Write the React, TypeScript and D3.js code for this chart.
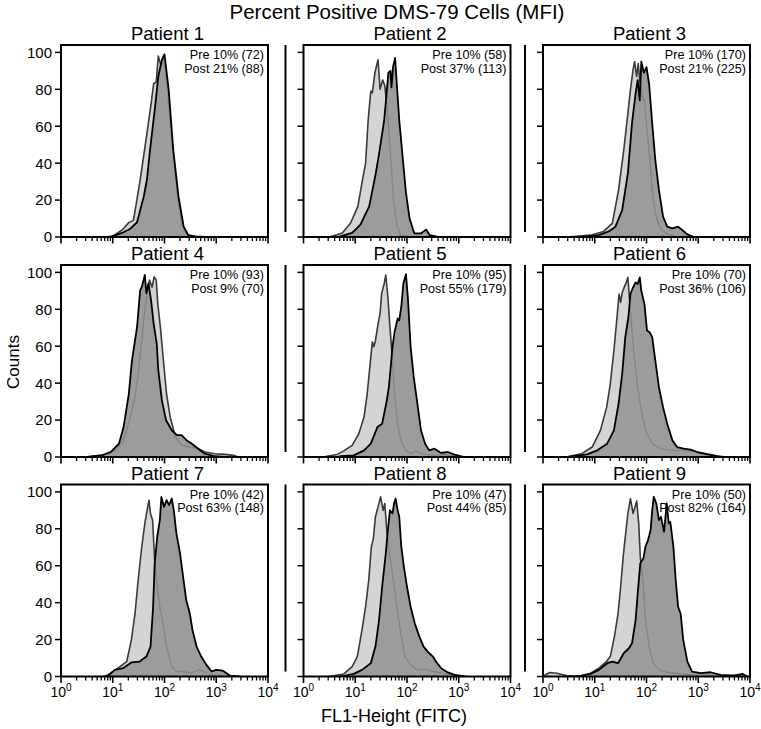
import * as React from 'react';
import * as d3 from 'd3';

// flow histograms, x = log10(FL1-Height), y = counts
type Pt = [number, number];

const patients = ['Patient 1', 'Patient 2', 'Patient 3', 'Patient 4', 'Patient 5', 'Patient 6', 'Patient 7', 'Patient 8', 'Patient 9'];
const preLabels = ['Pre 10% (72)', 'Pre 10% (58)', 'Pre 10% (170)', 'Pre 10% (93)', 'Pre 10% (95)', 'Pre 10% (70)', 'Pre 10% (42)', 'Pre 10% (47)', 'Pre 10% (50)'];
const postLabels = ['Post 21% (88)', 'Post 37% (113)', 'Post 21% (225)', 'Post 9% (70)', 'Post 55% (179)', 'Post 36% (106)', 'Post 63% (148)', 'Post 44% (85)', 'Post 82% (164)'];

const yTicks = [0, 20, 40, 60, 80, 100];

const pre1: Pt[] = [[0.85, 0], [1.0, 0.5], [1.18, 3.8], [1.31, 7.8], [1.40, 9], [1.53, 31], [1.66, 56], [1.74, 72], [1.79, 83], [1.84, 84], [1.88, 98], [1.94, 92], [1.98, 98], [2.04, 85], [2.14, 53], [2.24, 25], [2.33, 7], [2.43, 1], [2.6, 0.3], [2.8, 0]];
const post1: Pt[] = [[0.95, 0], [1.18, 2.2], [1.34, 4.5], [1.47, 8], [1.60, 22], [1.66, 31], [1.72, 47], [1.82, 71], [1.88, 87], [1.95, 96], [2.0, 99], [2.08, 80], [2.17, 47], [2.27, 22], [2.37, 5.6], [2.46, 1], [2.6, 0.3], [2.78, 0]];

const pre2: Pt[] = [[0.5, 0], [0.58, 0.7], [0.75, 2.2], [0.91, 7.6], [1.05, 16.6], [1.14, 31], [1.20, 40], [1.25, 63.5], [1.30, 79], [1.33, 78], [1.38, 89], [1.44, 96], [1.48, 80], [1.53, 85], [1.57, 82], [1.62, 69], [1.68, 45], [1.74, 20], [1.81, 6], [1.88, 1], [2.08, 0]];
const post2: Pt[] = [[0.65, 0], [0.71, 0.3], [0.94, 2.2], [1.10, 6.7], [1.27, 16.6], [1.40, 35], [1.46, 45], [1.56, 63.5], [1.60, 76], [1.64, 89], [1.68, 90], [1.70, 81], [1.73, 92], [1.77, 97], [1.81, 80], [1.85, 63.5], [1.92, 42], [1.98, 24], [2.05, 10], [2.14, 2], [2.27, 2], [2.37, 4], [2.44, 1], [2.6, 0]];

const pre3: Pt[] = [[0.5, 0], [0.59, 0.2], [0.92, 1], [1.17, 3], [1.34, 7.4], [1.46, 25.5], [1.56, 47], [1.64, 67], [1.69, 80], [1.74, 90.6], [1.77, 95], [1.81, 87], [1.84, 94], [1.87, 85], [1.92, 76], [1.96, 74], [2.01, 58], [2.06, 43.6], [2.11, 25.5], [2.17, 12.8], [2.26, 4.7], [2.37, 2], [2.53, 0.5], [2.79, 0]];
const post3: Pt[] = [[0.7, 0], [0.79, 0.2], [1.08, 1], [1.27, 3], [1.40, 5.6], [1.53, 14.6], [1.64, 34.5], [1.72, 61.7], [1.79, 78], [1.83, 85], [1.87, 74], [1.90, 95], [1.95, 89], [2.0, 92], [2.05, 83], [2.11, 61.7], [2.17, 41.8], [2.24, 25.5], [2.32, 11], [2.40, 5.6], [2.50, 4.7], [2.61, 5.6], [2.69, 3.8], [2.79, 1.4], [2.92, 0]];

const pre4: Pt[] = [[0.5, 0], [0.60, 0.4], [0.86, 1.3], [1.05, 3.6], [1.21, 9], [1.34, 21.7], [1.44, 34], [1.50, 47], [1.56, 63], [1.62, 79.6], [1.66, 88.6], [1.71, 95.8], [1.76, 92], [1.80, 97.6], [1.84, 95.8], [1.87, 83], [1.92, 70.5], [1.98, 52], [2.04, 34], [2.11, 21.7], [2.21, 10.8], [2.33, 6.3], [2.49, 5.4], [2.65, 4.5], [2.78, 2.7], [2.97, 1.8], [3.17, 1.4], [3.33, 0.9], [3.42, 0]];
const post4: Pt[] = [[0.5, 0], [0.79, 0.9], [0.96, 2.7], [1.12, 7.2], [1.21, 16.3], [1.31, 34], [1.37, 52], [1.47, 70.5], [1.53, 90.4], [1.56, 92], [1.62, 98.6], [1.65, 88.6], [1.69, 94], [1.74, 85], [1.79, 72.3], [1.85, 61.5], [1.88, 47], [1.95, 30.7], [2.03, 19.9], [2.14, 14.5], [2.24, 11.8], [2.33, 11.8], [2.43, 9], [2.53, 7.2], [2.65, 4.5], [2.78, 1.8], [2.97, 0.4], [3.17, 0]];

const pre5: Pt[] = [[0.40, 0], [0.45, 0.4], [0.65, 1.4], [0.78, 3.3], [0.94, 6.3], [1.07, 12.7], [1.17, 21.7], [1.23, 34], [1.30, 54], [1.33, 62.4], [1.36, 59.7], [1.39, 63], [1.44, 72], [1.48, 77.8], [1.51, 88.6], [1.56, 94], [1.59, 98.6], [1.63, 86.8], [1.67, 70.5], [1.72, 52.4], [1.76, 34], [1.82, 18], [1.88, 9], [1.98, 3.6], [2.07, 1.8], [2.17, 3.3], [2.27, 1.8], [2.53, 0.9], [2.72, 1.4], [2.92, 0.4], [3.0, 0]];
const post5: Pt[] = [[0.65, 0], [0.71, 0.4], [0.97, 0.9], [1.17, 3.6], [1.30, 7.2], [1.43, 16.3], [1.52, 18], [1.61, 30.7], [1.65, 38], [1.72, 59.7], [1.76, 67.8], [1.82, 75], [1.85, 74], [1.89, 81.4], [1.93, 94], [1.98, 99], [2.02, 85], [2.07, 59.7], [2.13, 43.4], [2.20, 29], [2.27, 14.5], [2.35, 7.2], [2.43, 3.6], [2.53, 4.5], [2.66, 2.2], [2.79, 2.7], [2.92, 1.3], [3.11, 0]];

const pre6: Pt[] = [[0.45, 0], [0.53, 0.5], [0.75, 1.8], [0.95, 5.4], [1.11, 14.4], [1.23, 27], [1.30, 39.6], [1.37, 57.7], [1.43, 75.7], [1.47, 88.3], [1.50, 83.8], [1.53, 89], [1.57, 92], [1.61, 94.6], [1.64, 97.3], [1.66, 90], [1.70, 75.7], [1.75, 57.7], [1.82, 39.6], [1.90, 25], [1.98, 14.4], [2.11, 7.2], [2.27, 4.5], [2.46, 3.6], [2.66, 3.6], [2.85, 3.2], [3.05, 2.3], [3.24, 1.4], [3.43, 0]];
const post6: Pt[] = [[0.5, 0], [0.59, 0.5], [0.85, 1.4], [1.05, 3.6], [1.24, 7.2], [1.37, 14.4], [1.46, 28.8], [1.53, 45], [1.59, 64.9], [1.65, 75.7], [1.69, 88.3], [1.74, 91.9], [1.79, 94.6], [1.83, 93.7], [1.87, 97.3], [1.90, 90], [1.96, 82.9], [2.01, 68.5], [2.06, 67.6], [2.11, 64.9], [2.17, 52.3], [2.24, 37.8], [2.32, 27], [2.40, 18], [2.50, 9], [2.59, 5.4], [2.72, 4.5], [2.85, 4], [2.98, 2.7], [3.17, 1.4], [3.37, 0.5], [3.5, 0]];

const pre7: Pt[] = [[0.8, 0], [0.88, 0.4], [1.01, 2.7], [1.14, 5.4], [1.27, 8.1], [1.36, 19.8], [1.43, 34], [1.49, 52], [1.56, 70], [1.62, 83], [1.65, 88], [1.70, 95.5], [1.73, 88], [1.77, 84.7], [1.81, 63], [1.86, 48.6], [1.91, 37.8], [1.97, 28.8], [2.04, 16.2], [2.14, 5.4], [2.23, 2.7], [2.36, 2.7], [2.49, 1.8], [2.68, 3.6], [2.78, 2.2], [2.94, 0.9], [3.07, 0.4], [3.15, 0]];
const post7: Pt[] = [[0.85, 0], [0.91, 0.4], [1.04, 3.6], [1.20, 4.5], [1.36, 7.6], [1.52, 8.1], [1.65, 10.8], [1.73, 16.2], [1.78, 37.8], [1.81, 61], [1.86, 75.7], [1.91, 84.7], [1.94, 97.3], [1.99, 91.9], [2.04, 95.5], [2.09, 92.8], [2.14, 96.4], [2.18, 90], [2.23, 77.5], [2.30, 66.7], [2.36, 54], [2.42, 41.4], [2.49, 34], [2.54, 25.2], [2.62, 16.2], [2.71, 10.8], [2.81, 6.3], [2.91, 2.7], [3.00, 3.6], [3.12, 3.2], [3.20, 1.8], [3.27, 0.4], [3.45, 0]];

const pre8: Pt[] = [[0.5, 0], [0.58, 0.4], [0.78, 1.4], [0.94, 5.4], [1.04, 10.8], [1.13, 25.2], [1.20, 37.8], [1.26, 52], [1.31, 70], [1.35, 74.8], [1.39, 86.5], [1.44, 91.9], [1.49, 97.3], [1.54, 90], [1.57, 93.7], [1.61, 79.3], [1.65, 68.5], [1.70, 59.5], [1.76, 46.8], [1.82, 34], [1.88, 23.4], [1.96, 10.8], [2.07, 6.3], [2.20, 3.6], [2.33, 4], [2.50, 2.7], [2.66, 1.8], [2.85, 0.9], [3.05, 0.4], [3.15, 0]];
const post8: Pt[] = [[0.7, 0], [0.78, 0.4], [0.97, 1.4], [1.13, 3.6], [1.30, 7.2], [1.39, 16.2], [1.46, 30.6], [1.52, 48.6], [1.59, 66.7], [1.63, 79.3], [1.67, 90], [1.72, 88.3], [1.75, 93.7], [1.78, 96.4], [1.82, 90], [1.85, 86.5], [1.89, 70.3], [1.94, 59.5], [2.00, 48.6], [2.07, 37.8], [2.15, 28.8], [2.24, 21.6], [2.32, 16.2], [2.40, 13.5], [2.50, 10.8], [2.56, 8.1], [2.66, 4.5], [2.79, 2.2], [2.92, 0.9], [3.11, 0]];

const pre9: Pt[] = [[0.0, 0], [0.06, 1.2], [0.14, 2.2], [0.27, 1.8], [0.46, 0.4], [0.72, 0.4], [0.92, 1.8], [1.08, 4.5], [1.21, 7.6], [1.30, 10.8], [1.38, 21.6], [1.45, 34], [1.50, 48.6], [1.55, 64.9], [1.59, 75.7], [1.64, 88.3], [1.69, 96.4], [1.74, 88.3], [1.81, 95], [1.85, 82.9], [1.88, 64.9], [1.94, 48.6], [1.98, 30.6], [2.05, 16.2], [2.13, 7.2], [2.24, 3.6], [2.40, 2.2], [2.66, 1.4], [2.98, 0.7], [3.30, 0.4], [3.56, 0.4], [3.82, 0.9], [3.95, 0]];
const post9: Pt[] = [[0.65, 0], [0.72, 0.2], [0.92, 1.4], [1.08, 3.6], [1.24, 7.2], [1.34, 8.1], [1.45, 7.2], [1.56, 12.6], [1.66, 15.3], [1.72, 18], [1.79, 30.6], [1.83, 45], [1.88, 61.3], [1.94, 64], [1.98, 70.3], [2.03, 73.9], [2.08, 79.3], [2.11, 90], [2.14, 97.3], [2.19, 93.7], [2.24, 84.7], [2.28, 86.5], [2.34, 78.4], [2.39, 93.7], [2.43, 82.9], [2.46, 83.8], [2.52, 70.3], [2.56, 54], [2.61, 37.8], [2.66, 34], [2.71, 19.8], [2.79, 8.1], [2.88, 2.7], [3.05, 1.8], [3.24, 2.3], [3.43, 0.9], [3.69, 0.4], [3.85, 1.4], [3.95, 0]];

const preData = [pre1, pre2, pre3, pre4, pre5, pre6, pre7, pre8, pre9];
const postData = [post1, post2, post3, post4, post5, post6, post7, post8, post9];

// layout
const W = 761;
const H = 729;
const colLefts = [61, 303.5, 543];
const rowTops = [45, 265, 484.5];
const boxW = 207;
const boxH = 192;
const FONT = '"Liberation Sans", Arial, Helvetica, sans-serif';

const PRE_FILL = '#d4d4d4';
const PRE_LINE = '#3a3a3a';
const PRE_LINE_IN = '#858585';
const POST_FILL = '#9c9c9c';

function isDecade(t: number) {
  const l = Math.log10(t);
  return Math.abs(l - Math.round(l)) < 1e-9;
}

function Panel({ i }: { i: number }) {
  const col = i % 3;
  const row = Math.floor(i / 3);
  const x0 = colLefts[col];
  const y0 = rowTops[row];
  const bottom = y0 + boxH;

  const x = d3.scaleLog().domain([1, 1e4]).range([x0, x0 + boxW]);
  const y = d3.scaleLinear().domain([0, 104]).range([bottom, y0]);

  const area = d3.area<Pt>().x((d) => x(10 ** d[0])).y0(y(0)).y1((d) => y(d[1]));
  const line = d3.line<Pt>().x((d) => x(10 ** d[0])).y((d) => y(d[1]));

  const pre = preData[i];
  const post = postData[i];
  const boxClip = `box-${i}`;
  const postClip = `post-${i}`;

  return (
    <g>
      <defs>
        <clipPath id={boxClip}>
          <rect x={x0} y={y0} width={boxW} height={boxH} />
        </clipPath>
        <clipPath id={postClip}>
          <path d={area(post) || ''} />
        </clipPath>
      </defs>

      <text x={x0 + boxW / 2 + 3} y={y0 - 5} textAnchor="middle" fontSize={18.5}>{patients[i]}</text>

      <text x={x0 + boxW - 4} y={y0 + 14} textAnchor="end" fontSize={12.6}>{preLabels[i]}</text>
      <text x={x0 + boxW - 4} y={y0 + 27.5} textAnchor="end" fontSize={12.6}>{postLabels[i]}</text>

      <g clipPath={`url(#${boxClip})`}>
        <path d={area(pre) || ''} fill={PRE_FILL} />
        <path d={line(pre) || ''} fill="none" stroke={PRE_LINE} strokeWidth={1.6} strokeLinejoin="round" />
        <path d={area(post) || ''} fill={POST_FILL} />
        <g clipPath={`url(#${postClip})`}>
          <path d={line(pre) || ''} fill="none" stroke={PRE_LINE_IN} strokeWidth={1.4} strokeLinejoin="round" />
        </g>
        <path d={line(post) || ''} fill="none" stroke="#000" strokeWidth={1.8} strokeLinejoin="round" />
      </g>

      <rect x={x0} y={y0} width={boxW} height={boxH} fill="none" stroke="#000" strokeWidth={2} />

      {col > 0 && (
        <line x1={x0 - 18} x2={x0 - 18} y1={y0} y2={bottom - 5} stroke="#000" strokeWidth={2} />
      )}

      {yTicks.map((t) => (
        <g key={`y${t}`}>
          <line x1={x0 - 6} x2={x0} y1={y(t)} y2={y(t)} stroke="#000" strokeWidth={1.5} />
          {col === 0 && (
            <text x={x0 - 9} y={y(t)} dy="0.36em" textAnchor="end" fontSize={15}>{t}</text>
          )}
        </g>
      ))}

      {x.ticks().map((t, k) => {
        const major = isDecade(t);
        return (
          <line key={`x${k}`} x1={x(t)} x2={x(t)} y1={bottom} y2={bottom + (major ? 6.5 : 4)} stroke="#000" strokeWidth={major ? 1.6 : 1.3} />
        );
      })}

      {row === 2 && x.ticks().filter(isDecade).map((t) => (
        <text key={`xl${t}`} x={x(t)} y={bottom + 20.5} textAnchor="middle" fontSize={14}>
          10<tspan dy={-6.5} fontSize={10}>{Math.round(Math.log10(t))}</tspan>
        </text>
      ))}
    </g>
  );
}

export default function App() {
  return (
    <svg width={W} height={H} style={{ position: 'absolute', left: 0, top: 0, background: '#fff' }} fontFamily={FONT}>
      <rect x={0} y={0} width={W} height={H} fill="#fff" />
      <text x={397} y={19} textAnchor="middle" fontSize={20.5}>Percent Positive DMS-79 Cells (MFI)</text>
      {patients.map((_, i) => <Panel key={i} i={i} />)}
      <text transform="translate(19,362) rotate(-90)" textAnchor="middle" fontSize={17}>Counts</text>
      <text x={394} y={722} textAnchor="middle" fontSize={18}>FL1-Height (FITC)</text>
    </svg>
  );
}
